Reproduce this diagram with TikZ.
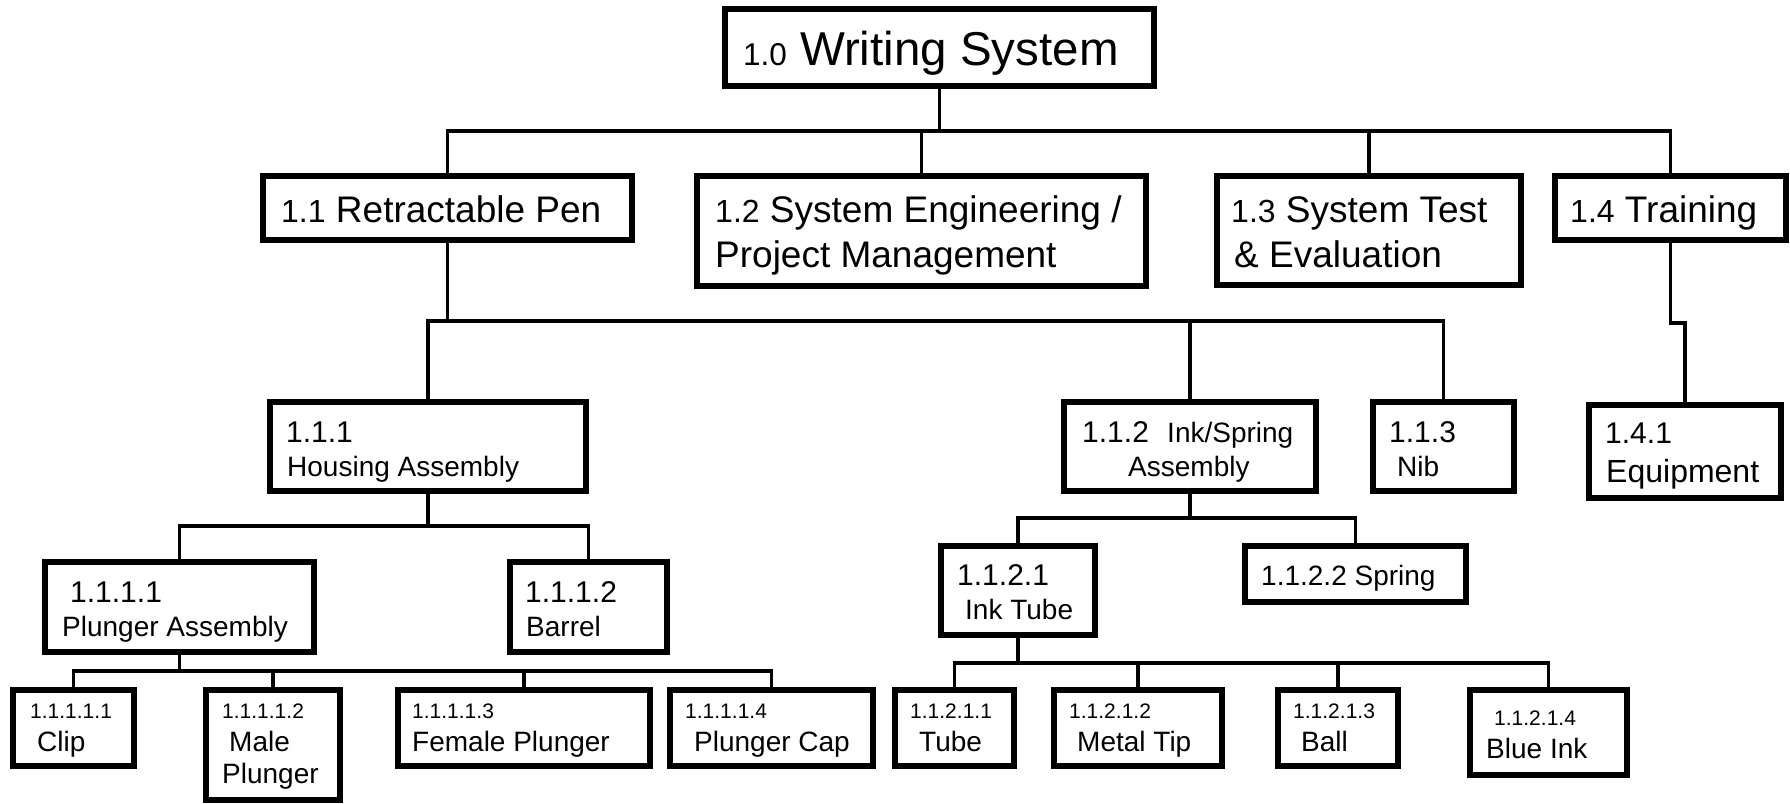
\documentclass[tikz,border=0pt]{standalone}
\usepackage{fontspec}
\setmainfont{Liberation Sans}
\usepackage{tikz}
\tikzset{
  box/.style={draw, rectangle, line width=5.5pt, inner sep=0pt},
  wire/.style={line width=3.5pt},
  txt/.style={anchor=base west, inner sep=0pt},
  f21/.style={txt, font=\fontsize{21}{24}\selectfont},
  f28/.style={txt, font=\fontsize{28}{32}\selectfont},
  f30/.style={txt, font=\fontsize{30}{34}\selectfont},
  f32/.style={txt, font=\fontsize{32}{36}\selectfont},
  f37/.style={txt, font=\fontsize{37}{40}\selectfont}
}
\begin{document}
\begin{tikzpicture}[x=1pt, y=-1pt]
\useasboundingbox (0,0) rectangle (1790,803);
\node[box, minimum width=429, minimum height=77] (10) at (939.5,47.5) {};
\node[box, minimum width=369, minimum height=64] (11) at (447.5,208) {};
\node[box, minimum width=449, minimum height=110] (12) at (921.5,231) {};
\node[box, minimum width=304, minimum height=109] (13) at (1369,230.5) {};
\node[box, minimum width=231, minimum height=64] (14) at (1670.5,208) {};
\node[box, minimum width=316, minimum height=89] (111) at (428,446.5) {};
\node[box, minimum width=252, minimum height=89] (112) at (1190,446.5) {};
\node[box, minimum width=141, minimum height=89] (113) at (1443.5,446.5) {};
\node[box, minimum width=192, minimum height=93] (141) at (1685,451.5) {};
\node[box, minimum width=269, minimum height=90] (1111) at (179.5,607) {};
\node[box, minimum width=157, minimum height=90] (1112) at (588.5,607) {};
\node[box, minimum width=154, minimum height=89] (1121) at (1018,590.5) {};
\node[box, minimum width=221, minimum height=56] (1122) at (1355.5,574) {};
\node[box, minimum width=121, minimum height=76] (11111) at (73.5,728) {};
\node[box, minimum width=134, minimum height=110] (11112) at (273,745) {};
\node[box, minimum width=252, minimum height=76] (11113) at (524,728) {};
\node[box, minimum width=203, minimum height=76] (11114) at (771.5,728) {};
\node[box, minimum width=119, minimum height=76] (11211) at (954.5,728) {};
\node[box, minimum width=168, minimum height=76] (11212) at (1138,728) {};
\node[box, minimum width=120, minimum height=76] (11213) at (1338,728) {};
\node[box, minimum width=157, minimum height=85] (11214) at (1548.5,732.5) {};

\node[f30, font=\fontsize{31.5}{34}\selectfont] (10a) at (743,65) {1.0\fontsize{47.5}{52}\selectfont\ Writing System};
\node[f32] (11a) at (281,222) {1.1\fontsize{37}{40}\selectfont\ Retractable Pen};
\node[f32] (12a) at (715,222) {1.2\fontsize{37}{40}\selectfont\ System Engineering /};
\node[f37] (12b) at (715,267) {Project Management};
\node[f32] (13a) at (1231,222) {1.3\fontsize{37}{40}\selectfont\ System Test};
\node[f37] (13b) at (1234,267) {\& Evaluation};
\node[f32] (14a) at (1570,222) {1.4\fontsize{37}{40}\selectfont\ Training};
\node[f30] (111a) at (286,442) {1.1.1};
\node[f28] (111b) at (287,476) {Housing Assembly};
\node[f30] (112a) at (1082,442) {1.1.2};
\node[f28] (112b) at (1167,442) {Ink/Spring};
\node[f28] (112c) at (1128,476) {Assembly};
\node[f30] (113a) at (1389,442) {1.1.3};
\node[f28] (113b) at (1397,476) {Nib};
\node[f30] (141a) at (1605,443) {1.4.1};
\node[f32] (141b) at (1606,482) {Equipment};
\node[f30] (1111a) at (70,602) {1.1.1.1};
\node[f28] (1111b) at (62,636) {Plunger Assembly};
\node[f30] (1112a) at (525,602) {1.1.1.2};
\node[f28] (1112b) at (526,636) {Barrel};
\node[f30] (1121a) at (957,585) {1.1.2.1};
\node[f28] (1121b) at (965,619) {Ink Tube};
\node[f28] (1122a) at (1261,585) {1.1.2.2 Spring};
\node[f21] (11111a) at (30,718) {1.1.1.1.1};
\node[f28] (11111b) at (37,751) {Clip};
\node[f21] (11112a) at (222,718) {1.1.1.1.2};
\node[f28] (11112b) at (229,751) {Male};
\node[f28] (11112c) at (222,783) {Plunger};
\node[f21] (11113a) at (412,718) {1.1.1.1.3};
\node[f28] (11113b) at (412,751) {Female Plunger};
\node[f21] (11114a) at (685,718) {1.1.1.1.4};
\node[f28] (11114b) at (694,751) {Plunger Cap};
\node[f21] (11211a) at (910,718) {1.1.2.1.1};
\node[f28] (11211b) at (919,751) {Tube};
\node[f21] (11212a) at (1069,718) {1.1.2.1.2};
\node[f28] (11212b) at (1077,751) {Metal Tip};
\node[f21] (11213a) at (1293,718) {1.1.2.1.3};
\node[f28] (11213b) at (1301,751) {Ball};
\node[f21] (11214a) at (1494,725) {1.1.2.1.4};
\node[f28] (11214b) at (1486,758) {Blue Ink};

\draw[wire] (10.south) -- ++(0,42) -| (11.north);
\draw[wire] (10.south) -- ++(0,42) -| (12.north);
\draw[wire] (10.south) -- ++(0,42) -| (13.north);
\draw[wire] (10.south) -- ++(0,42) -| (14.north);
\draw[wire] (11.south) -- ++(0,78) -| (111.north);
\draw[wire] (11.south) -- ++(0,78) -| (112.north);
\draw[wire] (11.south) -- ++(0,78) -| (113.north);
\draw[wire] (14.south) -- ++(0,80) -| (141.north);
\draw[wire] (111.south) -- ++(0,32) -| (1111.north);
\draw[wire] (111.south) -- ++(0,32) -| (1112.north);
\draw[wire] (112.south) -- ++(0,24) -| (1121.north);
\draw[wire] (112.south) -- ++(0,24) -| (1122.north);
\draw[wire] (1111.south) -- ++(0,16) -| (11111.north);
\draw[wire] (1111.south) -- ++(0,16) -| (11112.north);
\draw[wire] (1111.south) -- ++(0,16) -| (11113.north);
\draw[wire] (1111.south) -- ++(0,16) -| (11114.north);
\draw[wire] (1121.south) -- ++(0,25) -| (11211.north);
\draw[wire] (1121.south) -- ++(0,25) -| (11212.north);
\draw[wire] (1121.south) -- ++(0,25) -| (11213.north);
\draw[wire] (1121.south) -- ++(0,25) -| (11214.north);
\end{tikzpicture}
\end{document}
